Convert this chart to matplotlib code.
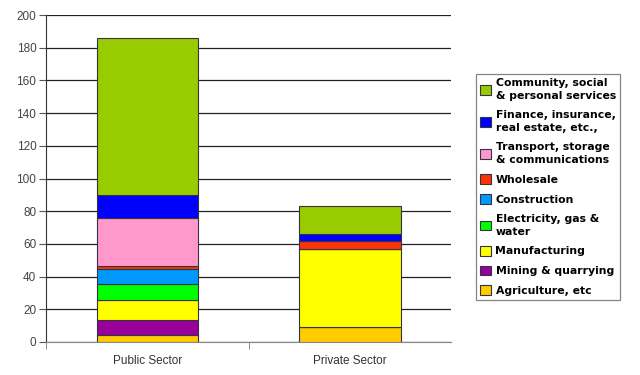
import matplotlib
matplotlib.use("Agg")
import matplotlib.pyplot as plt
import numpy as np

sectors = ["Public Sector", "Private Sector"]
industries = [
    "Agriculture, etc",
    "Mining & quarrying",
    "Manufacturing",
    "Electricity, gas &\nwater",
    "Construction",
    "Wholesale",
    "Transport, storage\n& communications",
    "Finance, insurance,\nreal estate, etc.,",
    "Community, social\n& personal services",
]
public_vals = [4.3, 9.2, 12.2, 9.6, 9.3, 1.9, 29.1, 14.3, 95.8]
private_vals = [9.0, 0.0, 48.0, 0.0, 0.0, 4.5, 0.0, 4.5, 17.3]
colors = ["#FFCC00", "#990099", "#FFFF00", "#00FF00", "#0099FF",
          "#FF3300", "#FF99CC", "#0000FF", "#99CC00"]
yticks = [0, 20, 40, 60, 80, 100, 120, 140, 160, 180, 200]

fig = plt.figure(figsize=(6.4, 3.75), dpi=100)
ax = fig.add_axes([0.072, 0.088, 0.633, 0.872])

x = np.arange(len(sectors))
bottom = np.zeros(len(sectors))
handles = []
for i, name in enumerate(industries):
    vals = np.array([public_vals[i], private_vals[i]])
    h = ax.bar(x, vals, 0.5, bottom=bottom, color=colors[i],
               edgecolor="#333344", linewidth=0.8, label=name, zorder=3)
    handles.append(h)
    bottom += vals

ax.set_xlim(-0.5, 1.5)
ax.set_ylim(0, 200)
ax.set_yticks(yticks)
ax.set_xticks(x)
ax.set_xticklabels(sectors, fontfamily="Liberation Sans", fontsize=8.5, color="#333333")
ax.tick_params(axis="x", length=0, pad=9)
ax.set_xticks([-0.5, 0.5], minor=True)
ax.tick_params(axis="x", which="minor", length=5, color="#777777", direction="out")
ax.tick_params(axis="y", length=5, color="#555555", labelsize=8.5, labelcolor="#444444", pad=2)
for lab in ax.get_yticklabels():
    lab.set_fontfamily("Liberation Sans")
ax.grid(axis="y", color="#222222", linewidth=0.9, zorder=0)
for s in ["top", "right"]:
    ax.spines[s].set_visible(False)
ax.spines["left"].set_color("#333333")
ax.spines["bottom"].set_color("#888888")

leg = fig.legend(handles[::-1], industries[::-1], loc="upper left",
                 bbox_to_anchor=(476 / 640, 1 - 74 / 375),
                 prop={"family": "DejaVu Sans", "weight": "bold", "size": 7.8},
                 frameon=True, fancybox=False, edgecolor="#666666",
                 handlelength=1.0, handleheight=1.0, handletextpad=0.4,
                 labelspacing=0.85, borderpad=0.4, borderaxespad=0)
for t in leg.get_texts():
    t.set_linespacing(1.35)
leg.get_frame().set_linewidth(0.9)

fig.savefig("out.png", dpi=100)
